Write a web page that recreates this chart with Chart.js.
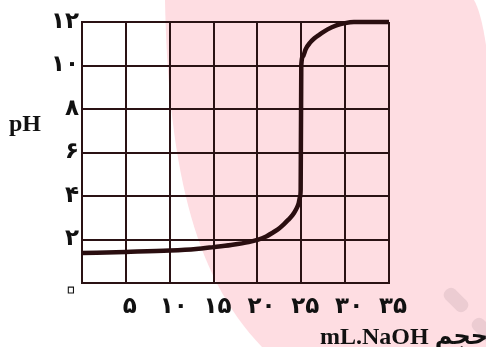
<!DOCTYPE html>
<html>
<head>
<meta charset="utf-8">
<script src="https://cdn.jsdelivr.net/npm/chart.js@4.4.0/dist/chart.umd.min.js"></script>
<style>
body { margin: 0; background: #fff; }
#wrap { width: 486px; height: 347px; }
</style>
</head>
<body>
<div id="wrap"><canvas id="titration" width="486" height="347"></canvas></div>
<script>
/////////////////// data ///////////////////
var volume = [0, 5, 10, 13, 15, 17, 19, 20, 21, 22, 22.5, 23, 23.5, 24, 24.4, 24.7, 24.85, 24.93, 25, 25.2, 25.5, 26, 26.5, 27, 28, 29, 30, 31, 35];
var ph = [1.38, 1.43, 1.49, 1.56, 1.65, 1.75, 1.88, 1.98, 2.14, 2.38, 2.52, 2.7, 2.9, 3.12, 3.38, 3.66, 3.95, 4.3, 10, 10.42, 10.75, 11.05, 11.25, 11.4, 11.66, 11.84, 11.95, 12, 12];

var xTicks = [0, 5, 10, 15, 20, 25, 30, 35];
var xTickLabels = ['۰', '۵', '۱۰', '۱۵', '۲۰', '۲۵', '۳۰', '۳۵'];
var yTicks = [0, 2, 4, 6, 8, 10, 12];
var yTickLabels = ['۰', '۲', '۴', '۶', '۸', '۱۰', '۱۲'];

var yTitle = 'pH';
var xTitle = 'mL.NaOH حجم';
var originLabel = '۰';

var ink = '#2a1214';
var pink = 'rgb(254, 221, 226)';

/////////////////// background watermark ///////////////////
var backdrop = {
    id: 'backdrop',
    beforeDraw: function (chart) {
        var c = chart.ctx;
        c.save();
        c.fillStyle = '#fff';
        c.fillRect(0, 0, chart.width, chart.height);
        c.fillStyle = pink;
        c.beginPath();
        c.moveTo(165, 0);
        c.bezierCurveTo(168, 160, 192, 275, 262, 347);
        c.lineTo(486, 347);
        c.lineTo(486, 45);
        c.quadraticCurveTo(481, 12, 474, 0);
        c.closePath();
        c.fill();
        // the two little grey diamonds at bottom right
        c.fillStyle = 'rgb(236, 204, 210)';
        [[456, 300], [484, 330]].forEach(function (p) {
            c.save();
            c.translate(p[0], p[1]);
            c.rotate(Math.PI / 4);
            c.beginPath();
            c.roundRect(-14, -7, 28, 14, 6);
            c.fill();
            c.restore();
        });
        c.restore();
    }
};

/////////////////// titles ///////////////////
var titles = {
    id: 'titles',
    afterDraw: function (chart) {
        var c = chart.ctx;
        c.save();
        c.fillStyle = '#111';
        c.textBaseline = 'middle';
        c.textAlign = 'left';
        c.font = 'bold 24px "Liberation Serif", serif';
        c.fillText(yTitle, 9, 125);
        c.textBaseline = 'alphabetic';
        c.font = 'bold 24px "Liberation Serif", "DejaVu Sans", serif';
        c.fillText(xTitle, 320, 344);
        // origin zero: outlined so it reads as the little ring of the print
        c.textAlign = 'center';
        c.textBaseline = 'middle';
        c.font = '48px "DejaVu Sans", sans-serif';
        c.strokeStyle = '#111';
        c.lineWidth = 1.1;
        c.strokeText(originLabel, 71, 292);
        c.restore();
    }
};

/////////////////// chart ///////////////////
var ctx = document.getElementById('titration').getContext('2d');
var chart = new Chart(ctx, {
    type: 'line',
    data: {
        datasets: [{
            data: volume.map(function (v, i) { return { x: v, y: ph[i] }; }),
            borderColor: '#2a0e10',
            borderWidth: 4.5,
            pointRadius: 0,
            cubicInterpolationMode: 'monotone',
            clip: false
        }]
    },
    options: {
        responsive: false,
        animation: false,
        layout: { padding: { top: 22, right: 97, left: 0, bottom: 0 } },
        plugins: { legend: { display: false }, tooltip: { enabled: false } },
        scales: {
            x: {
                type: 'linear',
                min: 0,
                max: 35,
                afterFit: function (s) { s.height = 64; },
                afterBuildTicks: function (s) { s.ticks = xTicks.map(function (v) { return { value: v }; }); },
                grid: { color: ink, lineWidth: 2, drawTicks: false },
                border: { color: ink, width: 2 },
                ticks: {
                    padding: 10,
                    labelOffset: 4,
                    color: '#111',
                    font: { family: 'DejaVu Sans', size: 23, weight: 'bold' },
                    callback: function (v) {
                        return v === 0 ? '' : xTickLabels[xTicks.indexOf(v)];
                    }
                }
            },
            y: {
                min: 0,
                max: 12,
                afterFit: function (s) { s.width = 82; },
                afterBuildTicks: function (s) { s.ticks = yTicks.map(function (v) { return { value: v }; }); },
                grid: { color: ink, lineWidth: 2, drawTicks: false },
                border: { color: ink, width: 2 },
                ticks: {
                    padding: 3,
                    color: '#111',
                    font: { family: 'DejaVu Sans', size: 23, weight: 'bold' },
                    callback: function (v) {
                        return v === 0 ? '' : yTickLabels[yTicks.indexOf(v)];
                    }
                }
            }
        }
    },
    plugins: [backdrop, titles]
});
</script>
</body>
</html>
